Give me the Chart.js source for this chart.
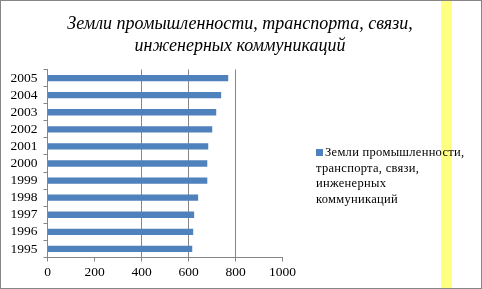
<!DOCTYPE html>
<html>
<head>
<meta charset="utf-8">
<script src="https://cdn.jsdelivr.net/npm/chart.js@4.4.1/dist/chart.umd.min.js"></script>
<style>
	body { margin: 0; background: #fff; }
	#wrap { position: relative; width: 482px; height: 289px; overflow: hidden; }
	#frame { position: absolute; left: 0; top: 0; width: 480px; height: 287px; border: 1px solid #868686; }
	#stripe { position: absolute; left: 441px; top: 0; width: 11px; height: 289px; background: #ffff80; }
	#chart { position: absolute; left: 0; top: 0; }
	#title {
		position: absolute; left: 0; top: 12px; width: 480px; text-align: center;
		font-family: "Liberation Serif", serif; font-style: italic; font-size: 18px; line-height: 22px; color: #000;
	}
	#legend {
		position: absolute; left: 316px; top: 145px; width: 160px;
		font-family: "Liberation Serif", serif; font-size: 12.5px; line-height: 15.5px; color: #000;
		letter-spacing: 0.3px;
	}
	#legend .box { display: inline-block; width: 7px; height: 7px; margin-right: 2px; vertical-align: 0px; }
</style>
</head>
<body>
<div id="wrap">
	<div id="stripe"></div>
	<canvas id="chart" width="482" height="289"></canvas>
	<div id="frame"></div>
	<div id="title">Земли промышленности, транспорта, связи,<br>инженерных коммуникаций</div>
	<div id="legend"></div>
</div>
<script>
const years = ["1995", "1996", "1997", "1998", "1999", "2000", "2001", "2002", "2003", "2004", "2005"];
const landValues = [616, 620, 624, 641, 680, 680, 684, 701, 718, 739, 769];
const seriesName = "Земли промышленности, транспорта, связи, инженерных коммуникаций";
const xTicks = [0, 200, 400, 600, 800, 1000];
const barColor = "#4f81bd";

document.addEventListener("DOMContentLoaded", () => {
	const ctx = document.getElementById("chart");

	new Chart(ctx, {
		type: "bar",
		data: {
			labels: years,
			datasets: [
				{
					label: seriesName,
					data: landValues,
					backgroundColor: barColor,
					borderWidth: 0,
					barPercentage: 0.37,
					categoryPercentage: 1,
				},
			],
		},
		options: {
			indexAxis: "y",
			responsive: false,
			animation: false,
			layout: {
				padding: { left: 0, right: 199.5, top: 69.5, bottom: 6 },
			},
			plugins: {
				legend: { display: false },
				title: { display: false },
				tooltip: { enabled: false },
			},
			scales: {
				x: {
					min: 0,
					max: 1000,
					afterBuildTicks: (scale) => {
						scale.ticks = xTicks.map((v) => ({ value: v }));
					},
					afterFit: (scale) => {
						scale.height = 25.5;
					},
					border: { color: "#868686", width: 1 },
					grid: {
						// only the middle lines show in the picture
						color: (c) => ([400, 600, 800].includes(c.tick && c.tick.value) ? "#868686" : "rgba(0,0,0,0)"),
						tickColor: "#868686",
						tickLength: 4,
					},
					ticks: {
						color: "#000",
						padding: 3,
						callback: (v) => String(v),
						font: { family: "Liberation Serif", size: 13.5 },
					},
				},
				y: {
					reverse: true,
					afterFit: (scale) => {
						scale.width = 47.5;
					},
					border: { color: "#868686", width: 1 },
					grid: {
						drawOnChartArea: false,
						offset: true,
						tickColor: "#868686",
						tickLength: 4,
					},
					ticks: {
						color: "#000",
						padding: 6,
						autoSkip: false,
						font: { family: "Liberation Serif", size: 13.5 },
					},
				},
			},
		},
	});

	const legend = document.getElementById("legend");
	legend.innerHTML = `<span class="box" style="background:${barColor}"></span>Земли промышленности,<br>транспорта, связи,<br>инженерных<br>коммуникаций`;
});
</script>
</body>
</html>
